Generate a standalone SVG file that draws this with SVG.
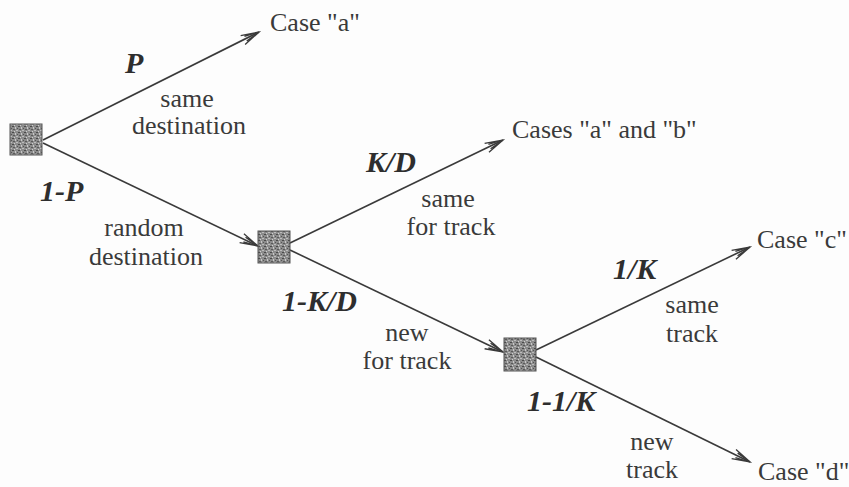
<svg xmlns="http://www.w3.org/2000/svg" width="849" height="487" viewBox="0 0 849 487">
  <style>
    .edge { stroke: #3a3a3a; stroke-width: 1.6; fill: none; marker-end: url(#arrow); }
    .node rect { fill: url(#grain); stroke: #555; stroke-width: 1; }
    .prob { font-family: "Liberation Serif", "Times New Roman", serif; font-weight: bold; font-style: italic; font-size: 30px; fill: #2e2e2e; }
    .lbl { font-family: "Liberation Serif", "Times New Roman", serif; font-size: 26px; fill: #3a3a3a; text-anchor: middle; }
    .case { font-family: "Liberation Serif", "Times New Roman", serif; font-size: 26px; fill: #3a3a3a; }
  </style>
  <defs>
    <pattern id="grain" width="6" height="6" patternUnits="userSpaceOnUse">
      <rect width="6" height="6" fill="#8c8c8c"/>
      <rect x="0" y="0" width="2" height="1" fill="#4a4a4a"/>
      <rect x="3" y="1" width="1" height="2" fill="#c8c8c8"/>
      <rect x="1" y="3" width="2" height="1" fill="#5a5a5a"/>
      <rect x="4" y="4" width="2" height="1" fill="#bdbdbd"/>
      <rect x="5" y="2" width="1" height="1" fill="#555"/>
      <rect x="2" y="5" width="1" height="1" fill="#d0d0d0"/>
    </pattern>
    <marker id="arrow" viewBox="-20 -6 22 12" refX="0" refY="0" markerWidth="22" markerHeight="12" markerUnits="userSpaceOnUse" orient="auto">
      <path d="M-18,-5 L0,0 L-18,5 M-15,-2.5 L0,0 L-15,2.5" fill="none" stroke="#3a3a3a" stroke-width="1.3"/>
    </marker>
  </defs>

  <rect width="849" height="487" fill="#fdfdfd"/>

  <!-- branches of the decision tree -->
  <g id="connectors">
    <line class="edge" x1="43" y1="140" x2="259" y2="32"/>
    <line class="edge" x1="43" y1="143" x2="258" y2="246"/>
    <line class="edge" x1="290" y1="243" x2="503" y2="140"/>
    <line class="edge" x1="290" y1="250" x2="503" y2="352"/>
    <line class="edge" x1="536" y1="350" x2="750" y2="247"/>
    <line class="edge" x1="536" y1="357" x2="750" y2="462"/>
  </g>

  <!-- decision points -->
  <g id="node-start" class="node"><rect x="10" y="124" width="32" height="31"/></g>
  <g id="node-random" class="node"><rect x="258" y="231" width="32" height="32"/></g>
  <g id="node-newtrack" class="node"><rect x="504" y="338" width="32" height="33"/></g>

  <!-- outcomes -->
  <g id="case-a"><text class="case" x="270" y="31">Case "a"</text></g>
  <g id="case-ab"><text class="case" x="512" y="138">Cases "a" and "b"</text></g>
  <g id="case-c"><text class="case" x="757" y="248">Case "c"</text></g>
  <g id="case-d"><text class="case" x="758" y="480">Case "d"</text></g>

  <!-- branch labels -->
  <g id="labels">
    <text class="prob" x="125" y="73">P</text>
    <text class="lbl" x="187" y="107">same</text>
    <text class="lbl" x="189" y="134">destination</text>

    <text class="prob" x="40" y="201">1-P</text>
    <text class="lbl" x="144" y="236">random</text>
    <text class="lbl" x="146" y="265">destination</text>

    <text class="prob" x="366" y="172">K/D</text>
    <text class="lbl" x="448" y="207">same</text>
    <text class="lbl" x="451" y="235">for track</text>

    <text class="prob" x="282" y="311">1-K/D</text>
    <text class="lbl" x="407" y="341">new</text>
    <text class="lbl" x="407" y="369">for track</text>

    <text class="prob" x="613" y="279">1/K</text>
    <text class="lbl" x="692" y="313">same</text>
    <text class="lbl" x="692" y="342">track</text>

    <text class="prob" x="527" y="411">1-1/K</text>
    <text class="lbl" x="652" y="450">new</text>
    <text class="lbl" x="652" y="478">track</text>
  </g>
</svg>
